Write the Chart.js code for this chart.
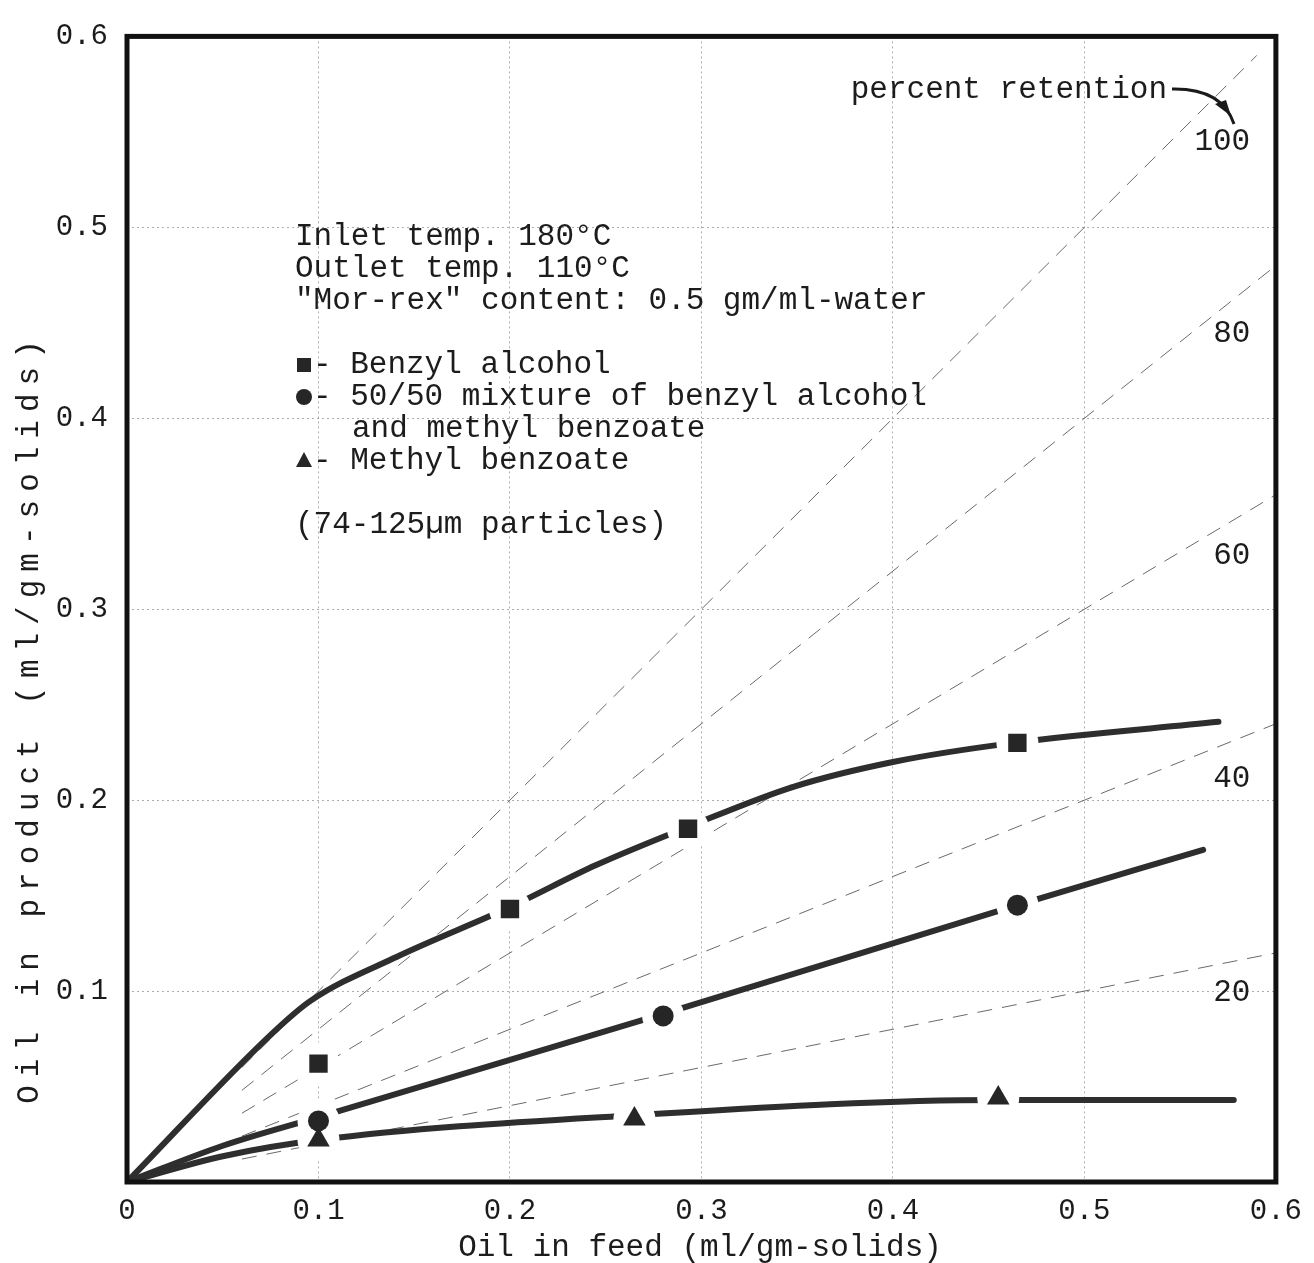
<!DOCTYPE html>
<html>
<head>
<meta charset="utf-8">
<title>Oil retention in spray-dried product</title>
<script src="https://cdn.jsdelivr.net/npm/chart.js@4.4.1/dist/chart.umd.min.js"></script>
<style>
  html, body { margin: 0; padding: 0; background: #fff; }
  #wrap { width: 1314px; height: 1263px; position: relative; }
</style>
</head>
<body>
<div id="wrap"><canvas id="retentionChart"></canvas></div>
<script>
const FONT = '"Liberation Mono", "DejaVu Sans Mono", monospace';
const INK = '#1c1c1c';
const LINE_INK = '#2e2e2e';

// axis ticks
const xTickLabels = ['0', '0.1', '0.2', '0.3', '0.4', '0.5', '0.6'];
const yTickLabels = ['', '0.1', '0.2', '0.3', '0.4', '0.5', '0.6'];

// measured points (oil in feed vs oil in product, ml/gm-solids)
const benzylFeed = [0.1, 0.2, 0.293, 0.465];
const benzylProduct = [0.062, 0.143, 0.185, 0.230];
const mixFeed = [0.1, 0.28, 0.465];
const mixProduct = [0.032, 0.087, 0.145];
const methylFeed = [0.1, 0.265, 0.455];
const methylProduct = [0.022, 0.033, 0.044];

// hand-faired curves through each set
const benzylCurveFeed = [0, 0.076, 0.096, 0.141, 0.2, 0.245, 0.293, 0.348, 0.4, 0.463, 0.57];
const benzylCurveProduct = [0, 0.078, 0.095, 0.118, 0.144, 0.166, 0.186, 0.207, 0.220, 0.230, 0.241];
const mixCurveFeed = [0, 0.05, 0.1, 0.28, 0.465, 0.562];
const mixCurveProduct = [0, 0.019, 0.034, 0.088, 0.145, 0.174];
const methylCurveFeed = [0, 0.05, 0.1, 0.265, 0.455, 0.578];
const methylCurveProduct = [0, 0.0135, 0.022, 0.035, 0.043, 0.043];

// percent retention guide lines (product = percent/100 * feed)
const retentionPercents = [100, 80, 60, 40, 20];
const retentionStart = 0.06;
const retentionEnd = [0.59, 0.6, 0.6, 0.6, 0.6];
const retentionLabelFeed = [0.572, 0.577, 0.577, 0.577, 0.577];
const retentionLabelProduct = [0.545, 0.444, 0.328, 0.211, 0.099];

const noteLines = [
    'Inlet temp. 180°C',
    'Outlet temp. 110°C',
    '"Mor-rex" content: 0.5 gm/ml-water'
];
const legendRows = [
    { symbol: 'rect', text: 'Benzyl alcohol' },
    { symbol: 'circle', text: '50/50 mixture of benzyl alcohol' },
    { symbol: null, text: 'and methyl benzoate' },
    { symbol: 'triangle', text: 'Methyl benzoate' }
];
const particleNote = '(74-125µm particles)';

function toPoints(xs, ys) {
    return xs.map((x, i) => ({ x: x, y: ys[i] }));
}

const datasets = [];

retentionPercents.forEach((p, i) => {
    datasets.push({
        label: p + '%',
        data: [
            { x: retentionStart, y: retentionStart * p / 100 },
            { x: retentionEnd[i], y: retentionEnd[i] * p / 100 }
        ],
        showLine: true,
        borderColor: '#6a6a6a',
        borderWidth: 1,
        borderDash: [15, 10],
        pointRadius: 0,
        order: 5
    });
});

function curve(xs, ys) {
    return {
        data: toPoints(xs, ys),
        showLine: true,
        borderColor: LINE_INK,
        borderWidth: 6,
        borderCapStyle: 'round',
        cubicInterpolationMode: 'monotone',
        pointRadius: 0,
        order: 4
    };
}
datasets.push(curve(benzylCurveFeed, benzylCurveProduct));
datasets.push(curve(mixCurveFeed, mixCurveProduct));
datasets.push(curve(methylCurveFeed, methylCurveProduct));

// white halo behind each marker gives the broken-line look
function halo(xs, ys) {
    return {
        data: toPoints(xs, ys),
        showLine: false,
        pointStyle: 'circle',
        pointRadius: 21,
        pointBorderWidth: 0,
        pointBackgroundColor: '#fff',
        order: 2
    };
}
datasets.push(halo(benzylFeed, benzylProduct));
datasets.push(halo(mixFeed, mixProduct));
datasets.push(halo(methylFeed, methylProduct));

function markers(label, xs, ys, style, radius) {
    return {
        label: label,
        data: toPoints(xs, ys),
        showLine: false,
        pointStyle: style,
        pointRadius: radius,
        pointBorderWidth: 0,
        pointBackgroundColor: '#262626',
        order: 1
    };
}
datasets.push(markers('Benzyl alcohol', benzylFeed, benzylProduct, 'rect', 13));
datasets.push(markers('50/50 mixture', mixFeed, mixProduct, 'circle', 10.5));
datasets.push(markers('Methyl benzoate', methylFeed, methylProduct, 'triangle', 13));

function drawSymbol(ctx, kind, cx, cy) {
    ctx.fillStyle = '#262626';
    ctx.beginPath();
    if (kind === 'rect') {
        ctx.rect(cx - 7, cy - 7, 14, 14);
    } else if (kind === 'circle') {
        ctx.arc(cx, cy, 8, 0, Math.PI * 2);
    } else if (kind === 'triangle') {
        ctx.moveTo(cx, cy - 9);
        ctx.lineTo(cx + 8, cy + 6);
        ctx.lineTo(cx - 8, cy + 6);
        ctx.closePath();
    }
    ctx.fill();
}

const annotationPlugin = {
    id: 'annotations',
    afterDraw(chart) {
        const { ctx, chartArea: area, scales } = chart;
        const xs = scales.x;
        const ys = scales.y;
        ctx.save();

        // heavy border round the plot
        ctx.strokeStyle = '#111';
        ctx.lineWidth = 5;
        ctx.strokeRect(area.left, area.top, area.right - area.left, area.bottom - area.top);

        ctx.fillStyle = INK;
        ctx.font = '31px ' + FONT;
        ctx.textBaseline = 'middle';

        // retention labels
        ctx.textAlign = 'center';
        retentionPercents.forEach((p, i) => {
            ctx.fillText(String(p), xs.getPixelForValue(retentionLabelFeed[i]), ys.getPixelForValue(retentionLabelProduct[i]));
        });

        // "percent retention" with curved arrow
        ctx.textAlign = 'right';
        ctx.fillText('percent retention', 1167, 90);
        ctx.strokeStyle = '#1a1a1a';
        ctx.lineWidth = 3;
        ctx.beginPath();
        ctx.moveTo(1172, 89);
        ctx.quadraticCurveTo(1222, 88, 1234, 124);
        ctx.stroke();
        ctx.fillStyle = '#1a1a1a';
        ctx.beginPath();
        ctx.moveTo(1231, 116);
        ctx.lineTo(1215, 104);
        ctx.lineTo(1226, 100);
        ctx.closePath();
        ctx.fill();

        // run conditions and legend
        ctx.fillStyle = INK;
        ctx.textAlign = 'left';
        const left = 295;
        const step = 32;
        let row = 237;
        noteLines.forEach(t => { ctx.fillText(t, left, row); row += step; });
        row += step;
        legendRows.forEach(r => {
            if (r.symbol) {
                drawSymbol(ctx, r.symbol, left + 9, row);
                ctx.fillStyle = INK;
                ctx.fillText('- ' + r.text, left + 18, row);
            } else {
                ctx.fillText(r.text, left + 57, row);
            }
            row += step;
        });
        row += step;
        ctx.fillText(particleNote, left, row);

        // axis titles
        ctx.textAlign = 'center';
        ctx.fillText('Oil in feed (ml/gm-solids)', 700, 1248);

        ctx.save();
        ctx.translate(30, 722);
        ctx.rotate(-Math.PI / 2);
        ctx.letterSpacing = '8px';
        ctx.fillText('Oil in product (ml/gm-solids)', 4, 0);
        ctx.restore();

        ctx.restore();
    }
};

const gridOpts = {
    color: 'rgba(0,0,0,0.32)',
    lineWidth: 1,
    drawTicks: false
};

new Chart(document.getElementById('retentionChart'), {
    type: 'scatter',
    data: { datasets: datasets },
    options: {
        responsive: true,
        maintainAspectRatio: false,
        animation: false,
        layout: { padding: { top: 34, right: 26, left: 0, bottom: 0 } },
        plugins: {
            legend: { display: false },
            tooltip: { enabled: false }
        },
        scales: {
            x: {
                type: 'linear',
                min: 0,
                max: 0.6,
                grid: gridOpts,
                border: { display: false, dash: [2, 3] },
                ticks: {
                    stepSize: 0.1,
                    autoSkip: false,
                    maxRotation: 0,
                    padding: 12,
                    color: INK,
                    font: { family: FONT, size: 29 },
                    callback: (v, i) => xTickLabels[i]
                },
                afterFit: scale => { scale.height = 81; }
            },
            y: {
                type: 'linear',
                min: 0,
                max: 0.6,
                grid: gridOpts,
                border: { display: false, dash: [2, 3] },
                ticks: {
                    stepSize: 0.1,
                    autoSkip: false,
                    padding: 19,
                    color: INK,
                    font: { family: FONT, size: 29 },
                    callback: (v, i) => yTickLabels[i]
                },
                afterFit: scale => { scale.width = 127; }
            }
        }
    },
    plugins: [annotationPlugin]
});
</script>
</body>
</html>
